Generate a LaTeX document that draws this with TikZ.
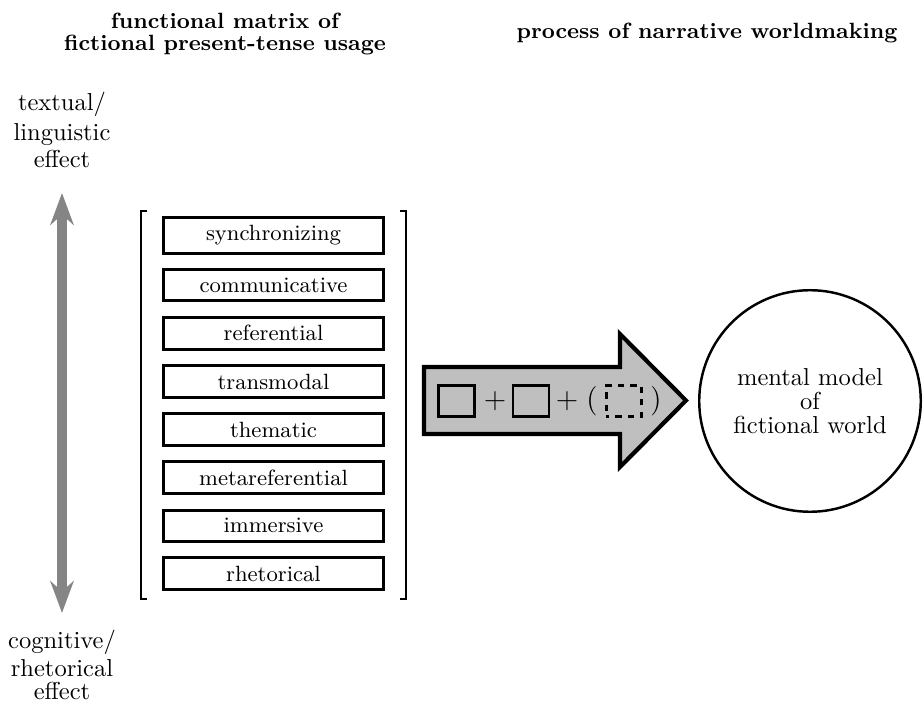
\documentclass[tikz,border=0pt]{standalone}
\usetikzlibrary{arrows.meta,positioning}
\begin{document}
\begin{tikzpicture}[x=0.408pt,y=-0.408pt,
  heading/.style={font=\small\bfseries, align=center, inner sep=0pt},
  pole/.style={align=center, inner sep=0pt},
  fnbox/.style={draw, line width=1.2pt, minimum width=89.8pt, inner xsep=2pt, inner ysep=3.3pt, font=\small},
  bracket/.style={line width=0.9pt, line join=miter},
  axis/.style={line width=3.7pt, draw=black!48,
    {Stealth[length=13pt,width=9.5pt]}-{Stealth[length=13pt,width=9.5pt]}},
  flow/.style={draw, line width=1.7pt, fill=black!25, line join=miter},
  slot/.style={draw, line width=1.05pt, minimum width=14.6pt, minimum height=12.6pt, inner sep=0pt},
  openslot/.style={slot, line width=1.15pt, dash pattern=on 2.6pt off 2.5pt, dash phase=1.3pt},
  sym/.style={inner sep=0pt, font=\fontsize{12}{14}\selectfont},
  world/.style={circle, draw, line width=1pt, minimum size=90.4pt, inner sep=0pt, align=center}]
\useasboundingbox (0,0) rectangle (924,704);

% headings
\node[heading] (hmatrix) at (225,34) {functional matrix of\\[-2pt]fictional present-tense usage};
\node[heading] (hprocess) at (707,33) {process of narrative worldmaking};

% vertical scale between the two kinds of effect
\node[pole] (hi) at (62,130) {textual/\\linguistic\\[-1pt]effect};
\node[pole] (lo) at (62,665) {cognitive/\\[-0.5pt]rhetorical\\[-2.5pt]effect};
\coordinate (axtop) at (62,193);
\coordinate (axbot) at (62,613);
\draw[axis] (axtop) -- (axbot);

% functions of the present tense
\node[fnbox, anchor=north] (f1) at (273.5,216) {synchronizing};
\node[fnbox, below=5.5pt of f1] (f2) {communicative};
\node[fnbox, below=5.5pt of f2] (f3) {referential};
\node[fnbox, below=5.5pt of f3] (f4) {transmodal};
\node[fnbox, below=5.5pt of f4] (f5) {thematic};
\node[fnbox, below=5.5pt of f5] (f6) {metareferential};
\node[fnbox, below=5.5pt of f6] (f7) {immersive};
\node[fnbox, below=5.5pt of f7] (f8) {rhetorical};

% matrix brackets
\draw[bracket] (147,211) -- (141,211) -- (141,599) -- (147,599);
\draw[bracket] (400,211) -- (406,211) -- (406,599) -- (400,599);

% block arrow towards the mental model
\draw[flow] (424,367) -- (620,367) -- (620,334) -- (686,400.5) -- (620,467) -- (620,434) -- (424,434) -- cycle;
\node[slot] (s1) at (456.5,401) {};
\node[sym] (p1) at (495,401) {$+$};
\node[slot] (s2) at (531,401) {};
\node[sym] (p2) at (567,401) {$+$};
\node[sym] (lp) at (592,401) {(};
\node[openslot] (s3) at (624,401) {};
\node[sym] (rp) at (656,401) {)};

% mental model
\node[world] (model) at (810,401) {mental model\\[-2.2pt]of\\[-2.2pt]fictional world};
\end{tikzpicture}
\end{document}
